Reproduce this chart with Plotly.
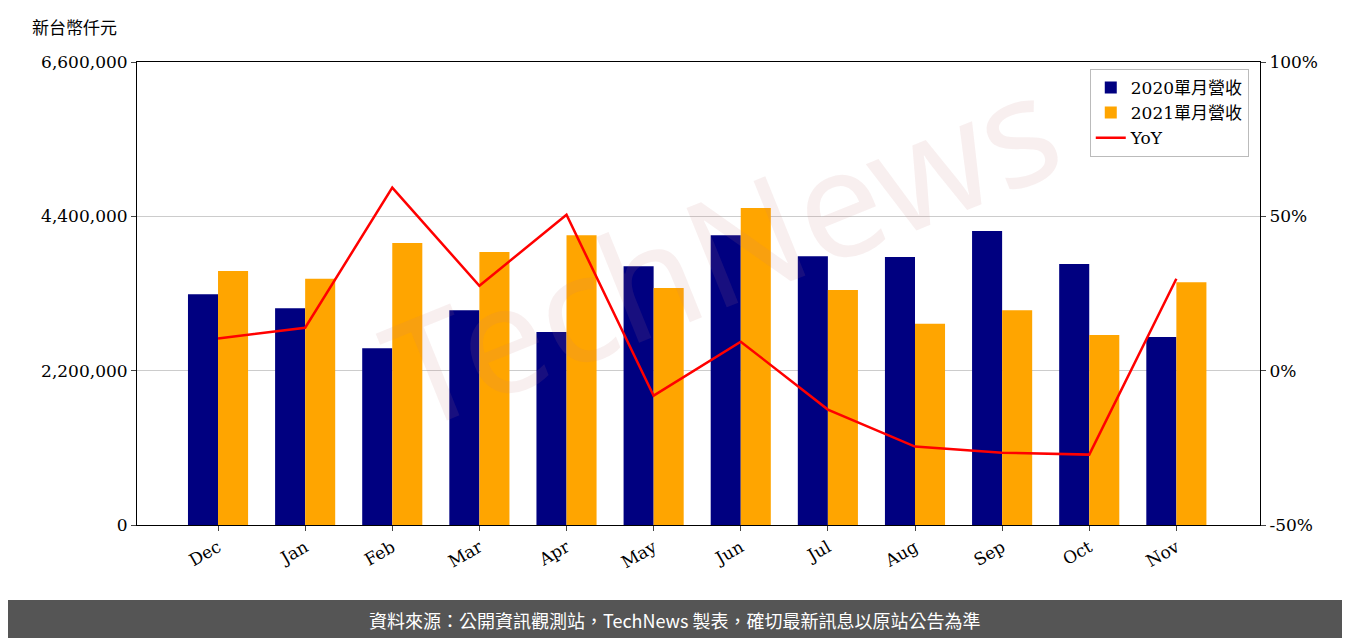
import plotly.graph_objects as go

months = ["Dec","Jan","Feb","Mar","Apr","May","Jun","Jul","Aug","Sep","Oct","Nov"]
rev2020 = [3290000,3090000,2520000,3060000,2750000,3690000,4130000,3830000,3820000,4190000,3720000,2680000]
rev2021 = [3620000,3510000,4020000,3890000,4130000,3380000,4520000,3350000,2870000,3060000,2710000,3460000]
yoy = [10.4,13.9,59.3,27.5,50.5,-8.1,9.4,-12.6,-24.6,-26.6,-27.2,29.8]

font = "DejaVu Serif, Noto Sans CJK TC"
fig = go.Figure()
fig.add_bar(x=months, y=rev2020, name="2020單月營收", marker=dict(color="#000080", line_width=0), yaxis="y")
fig.add_bar(x=months, y=rev2021, name="2021單月營收", marker=dict(color="#FFA500", line_width=0), yaxis="y")
fig.add_scatter(x=months, y=yoy, name="YoY", mode="lines", line=dict(color="red", width=2.5), yaxis="y2")

fig.update_layout(
    width=1350, height=638, plot_bgcolor="white", paper_bgcolor="white",
    margin=dict(l=129, r=98, t=54, b=121),
    font=dict(family=font, size=17, color="black"),
    barmode="group", bargap=0.31, bargroupgap=0,
    xaxis=dict(range=[-0.93, 11.96], showline=True, linecolor="black", mirror=True, tickangle=-30,
               ticks="outside", ticklen=5),
    yaxis=dict(range=[0,6600000], tickvals=[0,2200000,4400000,6600000],
               ticktext=["0","2,200,000","4,400,000","6,600,000"],
               showgrid=True, gridcolor="#cccccc", showline=True, linecolor="black",
               ticks="outside", ticklen=5, zeroline=False),
    yaxis2=dict(range=[-50,100], tickvals=[-50,0,50,100], ticktext=["-50%","0%","50%","100%"],
                overlaying="y", side="right", showgrid=False, showline=True, linecolor="black",
                ticks="outside", ticklen=5, zeroline=False),
    legend=dict(x=0.99, y=0.985, xanchor="right", yanchor="top", bordercolor="#bbbbbb",
                borderwidth=1, bgcolor="rgba(255,255,255,0.8)", font=dict(size=17, family=font)),
    shapes=[dict(type="rect", xref="paper", yref="paper", x0=-0.13, x1=1.09, y0=-0.162, y1=-0.262,
                 fillcolor="#555555", line_width=0, layer="above")],
    annotations=[
        dict(text="新台幣仟元", xref="paper", yref="paper", x=-0.095, y=1.045, xanchor="left", yanchor="bottom",
             showarrow=False, font=dict(size=17, family="Noto Sans CJK TC")),
        dict(text="TechNews", xref="paper", yref="paper", x=0.52, y=0.6, showarrow=False, textangle=-22,
             font=dict(size=150, family="Noto Sans", color="rgba(200,120,120,0.12)")),
        dict(text="資料來源：公開資訊觀測站，TechNews 製表，確切最新訊息以原站公告為準",
             xref="paper", yref="paper", x=0.479, y=-0.205, showarrow=False, yanchor="middle",
             font=dict(size=18, color="white", family="Noto Sans CJK TC")),
    ],
)
fig.write_html("out.html")
